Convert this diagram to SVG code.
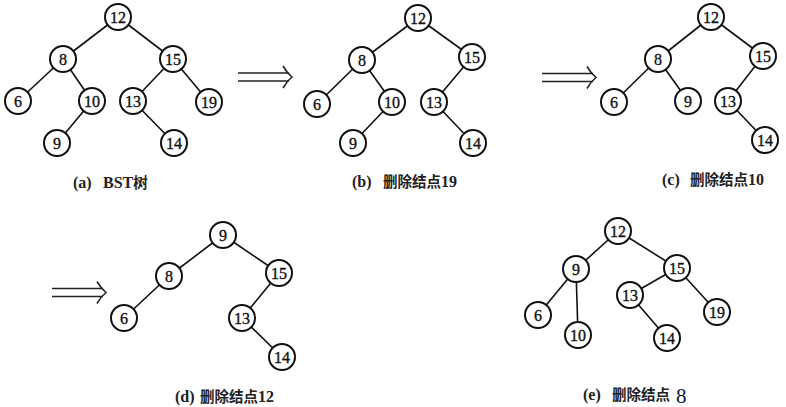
<svg xmlns="http://www.w3.org/2000/svg" width="786" height="407" viewBox="0 0 786 407">
<style>
.n circle{fill:#fff;stroke:#111;stroke-width:2}
.n text{font-family:"Liberation Serif","DejaVu Serif",serif;font-size:16px;fill:#111;stroke:#111;stroke-width:0.35;text-anchor:middle;dominant-baseline:central}
.e line{stroke:#111;stroke-width:1.6}
.arr{fill:none;stroke:#222;stroke-width:1.6}
.cap{font-family:"Liberation Serif","Noto Sans CJK SC",serif;font-size:16px;font-weight:bold;fill:#222}
.cap .cj{font-family:"Noto Sans CJK SC","Liberation Serif",sans-serif;font-weight:bold;font-size:14.5px}
</style>
<defs>
<g id="dbl">
<line x1="0" y1="-4" x2="51" y2="-4"/>
<line x1="0" y1="4" x2="51" y2="4"/>
<path d="M45,-11 Q49,-4 54,0 Q49,4 45,11"/>
</g>
</defs>
<rect width="786" height="407" fill="#fff"/>
<g id="arrows" class="arr">
<use href="#dbl" x="238" y="77"/>
<use href="#dbl" x="542" y="77.5"/>
<use href="#dbl" x="52" y="292.5"/>
</g>
<g id="connectors" class="e">
<line x1="118" y1="17" x2="63" y2="59"/>
<line x1="118" y1="17" x2="173" y2="59"/>
<line x1="63" y1="59" x2="18" y2="101"/>
<line x1="63" y1="59" x2="92" y2="101"/>
<line x1="92" y1="101" x2="57" y2="143"/>
<line x1="173" y1="59" x2="133" y2="101"/>
<line x1="173" y1="59" x2="209" y2="102"/>
<line x1="133" y1="101" x2="174" y2="143"/>
<line x1="418" y1="18" x2="362" y2="60"/>
<line x1="418" y1="18" x2="472" y2="57"/>
<line x1="362" y1="60" x2="317" y2="104"/>
<line x1="362" y1="60" x2="392" y2="102"/>
<line x1="392" y1="102" x2="353" y2="143"/>
<line x1="472" y1="57" x2="434" y2="102"/>
<line x1="434" y1="102" x2="473" y2="143"/>
<line x1="711" y1="17" x2="658" y2="59"/>
<line x1="711" y1="17" x2="763" y2="56"/>
<line x1="658" y1="59" x2="614" y2="102"/>
<line x1="658" y1="59" x2="688" y2="101"/>
<line x1="763" y1="56" x2="728" y2="101"/>
<line x1="728" y1="101" x2="765" y2="140"/>
<line x1="223" y1="235" x2="169" y2="276"/>
<line x1="223" y1="235" x2="279" y2="273"/>
<line x1="169" y1="276" x2="124" y2="318"/>
<line x1="279" y1="273" x2="242" y2="318"/>
<line x1="242" y1="318" x2="282" y2="357"/>
<line x1="618" y1="231" x2="576" y2="269"/>
<line x1="618" y1="231" x2="677" y2="268"/>
<line x1="576" y1="269" x2="538" y2="315"/>
<line x1="576" y1="269" x2="578" y2="335"/>
<line x1="677" y1="268" x2="630" y2="295"/>
<line x1="677" y1="268" x2="717" y2="312"/>
<line x1="630" y1="295" x2="667" y2="338"/>
</g>
<g id="a12" class="n"><circle cx="118" cy="17" r="13"/><text x="118" y="17">12</text></g>
<g id="a8" class="n"><circle cx="63" cy="59" r="13"/><text x="63" y="59">8</text></g>
<g id="a15" class="n"><circle cx="173" cy="59" r="13"/><text x="173" y="59">15</text></g>
<g id="a6" class="n"><circle cx="18" cy="101" r="13"/><text x="18" y="101">6</text></g>
<g id="a10" class="n"><circle cx="92" cy="101" r="13"/><text x="92" y="101">10</text></g>
<g id="a13" class="n"><circle cx="133" cy="101" r="13"/><text x="133" y="101">13</text></g>
<g id="a19" class="n"><circle cx="209" cy="102" r="13"/><text x="209" y="102">19</text></g>
<g id="a9" class="n"><circle cx="57" cy="143" r="13"/><text x="57" y="143">9</text></g>
<g id="a14" class="n"><circle cx="174" cy="143" r="13"/><text x="174" y="143">14</text></g>
<g id="b12" class="n"><circle cx="418" cy="18" r="13"/><text x="418" y="18">12</text></g>
<g id="b8" class="n"><circle cx="362" cy="60" r="13"/><text x="362" y="60">8</text></g>
<g id="b15" class="n"><circle cx="472" cy="57" r="13"/><text x="472" y="57">15</text></g>
<g id="b6" class="n"><circle cx="317" cy="104" r="13"/><text x="317" y="104">6</text></g>
<g id="b10" class="n"><circle cx="392" cy="102" r="13"/><text x="392" y="102">10</text></g>
<g id="b13" class="n"><circle cx="434" cy="102" r="13"/><text x="434" y="102">13</text></g>
<g id="b9" class="n"><circle cx="353" cy="143" r="13"/><text x="353" y="143">9</text></g>
<g id="b14" class="n"><circle cx="473" cy="143" r="13"/><text x="473" y="143">14</text></g>
<g id="c12" class="n"><circle cx="711" cy="17" r="13"/><text x="711" y="17">12</text></g>
<g id="c8" class="n"><circle cx="658" cy="59" r="13"/><text x="658" y="59">8</text></g>
<g id="c15" class="n"><circle cx="763" cy="56" r="13"/><text x="763" y="56">15</text></g>
<g id="c6" class="n"><circle cx="614" cy="102" r="13"/><text x="614" y="102">6</text></g>
<g id="c9" class="n"><circle cx="688" cy="101" r="13"/><text x="688" y="101">9</text></g>
<g id="c13" class="n"><circle cx="728" cy="101" r="13"/><text x="728" y="101">13</text></g>
<g id="c14" class="n"><circle cx="765" cy="140" r="13"/><text x="765" y="140">14</text></g>
<g id="d9" class="n"><circle cx="223" cy="235" r="13"/><text x="223" y="235">9</text></g>
<g id="d8" class="n"><circle cx="169" cy="276" r="13"/><text x="169" y="276">8</text></g>
<g id="d15" class="n"><circle cx="279" cy="273" r="13"/><text x="279" y="273">15</text></g>
<g id="d6" class="n"><circle cx="124" cy="318" r="13"/><text x="124" y="318">6</text></g>
<g id="d13" class="n"><circle cx="242" cy="318" r="13"/><text x="242" y="318">13</text></g>
<g id="d14" class="n"><circle cx="282" cy="357" r="13"/><text x="282" y="357">14</text></g>
<g id="e12" class="n"><circle cx="618" cy="231" r="13"/><text x="618" y="231">12</text></g>
<g id="e9" class="n"><circle cx="576" cy="269" r="13"/><text x="576" y="269">9</text></g>
<g id="e15" class="n"><circle cx="677" cy="268" r="13"/><text x="677" y="268">15</text></g>
<g id="e13" class="n"><circle cx="630" cy="295" r="13"/><text x="630" y="295">13</text></g>
<g id="e6" class="n"><circle cx="538" cy="315" r="13"/><text x="538" y="315">6</text></g>
<g id="e10" class="n"><circle cx="578" cy="335" r="13"/><text x="578" y="335">10</text></g>
<g id="e14" class="n"><circle cx="667" cy="338" r="13"/><text x="667" y="338">14</text></g>
<g id="e19" class="n"><circle cx="717" cy="312" r="13"/><text x="717" y="312">19</text></g>
<g id="captions" class="cap">
<text x="73" y="188">(a)<tspan x="103">BST</tspan><tspan class="cj">树</tspan></text>
<text x="352" y="187">(b)<tspan x="383" class="cj">删除结点</tspan><tspan>19</tspan></text>
<text x="662" y="185">(c)<tspan x="690" class="cj">删除结点</tspan><tspan>10</tspan></text>
<text x="175" y="402">(d)<tspan x="200" class="cj">删除结点</tspan><tspan>12</tspan></text>
<text x="583" y="400">(e)<tspan x="612" class="cj">删除结点</tspan></text>
<text x="676" y="403" style="font-family:'Liberation Serif',serif;font-size:21px;font-weight:normal;fill:#0a1a3a">8</text>
</g>
</svg>
